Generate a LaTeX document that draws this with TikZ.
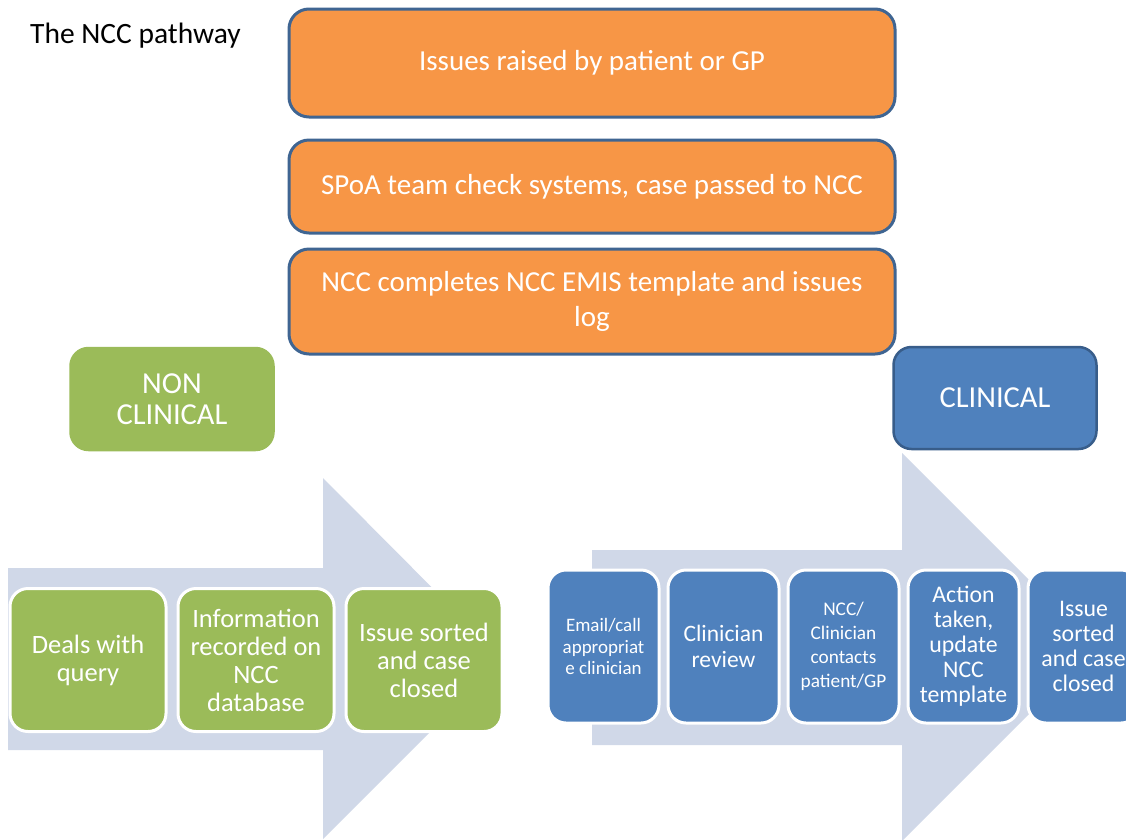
\documentclass[tikz,border=0pt]{standalone}
\usepackage{fontspec}
\setmainfont{Carlito}
\usepackage{xcolor}
\definecolor{nccOrange}{HTML}{F79646}
\definecolor{nccBorder}{HTML}{3F6592}
\definecolor{nccGreen}{HTML}{9BBB59}
\definecolor{nccBlue}{HTML}{4F81BD}
\definecolor{nccBlueDark}{HTML}{385D8A}
\definecolor{nccArrow}{HTML}{D0D8E8}
\usepackage{tikz}
\usetikzlibrary{positioning}
\tikzset{
    stage/.style={
        draw=nccBorder,
        fill=nccOrange,
        rectangle,
        rounded corners=20pt,
        line width=3pt,
        minimum width=606pt,
        align=center,
        inner sep=0pt,
        text=white,
        font=\fontsize{29}{35}\selectfont
    },
    branch/.style={
        rectangle,
        rounded corners=18pt,
        line width=2.5pt,
        minimum width=203pt,
        minimum height=102pt,
        align=center,
        inner sep=0pt,
        text=white,
        font=\fontsize{30.5}{31.5}\selectfont
    },
    stepgreen/.style={
        draw=white,
        fill=nccGreen,
        rectangle,
        rounded corners=18pt,
        line width=3pt,
        minimum width=156pt,
        minimum height=143pt,
        align=center,
        inner sep=0pt,
        text=white,
        font=\fontsize{26.5}{28}\selectfont
    },
    stepblue/.style={
        draw=white,
        fill=nccBlue,
        rectangle,
        rounded corners=18pt,
        line width=3pt,
        minimum width=111pt,
        minimum height=153pt,
        align=center,
        inner sep=0pt,
        text=white,
        font=\fontsize{23.8}{25}\selectfont
    },
    bigarrow/.style={
        fill=nccArrow
    }
}

\begin{document}
\begin{tikzpicture}[x=1pt,y=-1pt]
    \clip (0,0) rectangle (1126,839);
    \fill[white] (0,0) rectangle (1126,839);

    % Background arrows
    \fill[bigarrow] (8,568) -- (323,568) -- (323,478) -- (503,659)
        -- (323,839) -- (323,750) -- (8,750) -- cycle;
    \fill[bigarrow] (592,550) -- (902,550) -- (902,453) -- (1096,647)
        -- (902,841) -- (902,745) -- (592,745) -- cycle;

    % Title
    \node[anchor=west, inner sep=0pt, font=\fontsize{29.5}{34}\selectfont] (title) at (30,36) {The NCC pathway};

    % Common stages
    \node[stage, minimum height=108pt] (issues) at (592,63) {Issues raised by patient or GP};
    \node[stage, minimum height=93pt, below=20pt of issues] (spoa) {SPoA team check systems, case passed to NCC};
    \node[stage, minimum height=105pt, below=13pt of spoa] (template) {NCC completes NCC EMIS template and issues\\log};

    % Branches
    \node[branch, fill=nccGreen, draw=nccGreen] (nonclin) at (172,399) {NON\\CLINICAL};
    \node[branch, fill=nccBlue, draw=nccBlueDark] (clin) at (995,398) {CLINICAL};

    % Non clinical steps
    \node[stepgreen] (deal) at (88,660) {Deals with\\query};
    \node[stepgreen, right=9pt of deal] (record) {Information\\recorded on\\NCC\\database};
    \node[stepgreen, right=9pt of record] (sortednc) {Issue sorted\\and case\\closed};

    % Clinical steps
    \node[stepblue, font=\fontsize{19}{21.5}\selectfont] (email) at (603.5,646.5) {Email/call\\appropriat\\e clinician};
    \node[stepblue, right=6pt of email, font=\fontsize{23.5}{26}\selectfont] (review) {Clinician\\review};
    \node[stepblue, right=6pt of review, font=\fontsize{19.3}{24}\selectfont] (contact) {NCC/\\Clinician\\contacts\\patient/GP};
    \node[stepblue, right=6pt of contact] (action) {Action\\taken,\\update\\NCC\\template};
    \node[stepblue, right=6pt of action] (sortedc) {Issue\\sorted\\and case\\closed};
\end{tikzpicture}
\end{document}
